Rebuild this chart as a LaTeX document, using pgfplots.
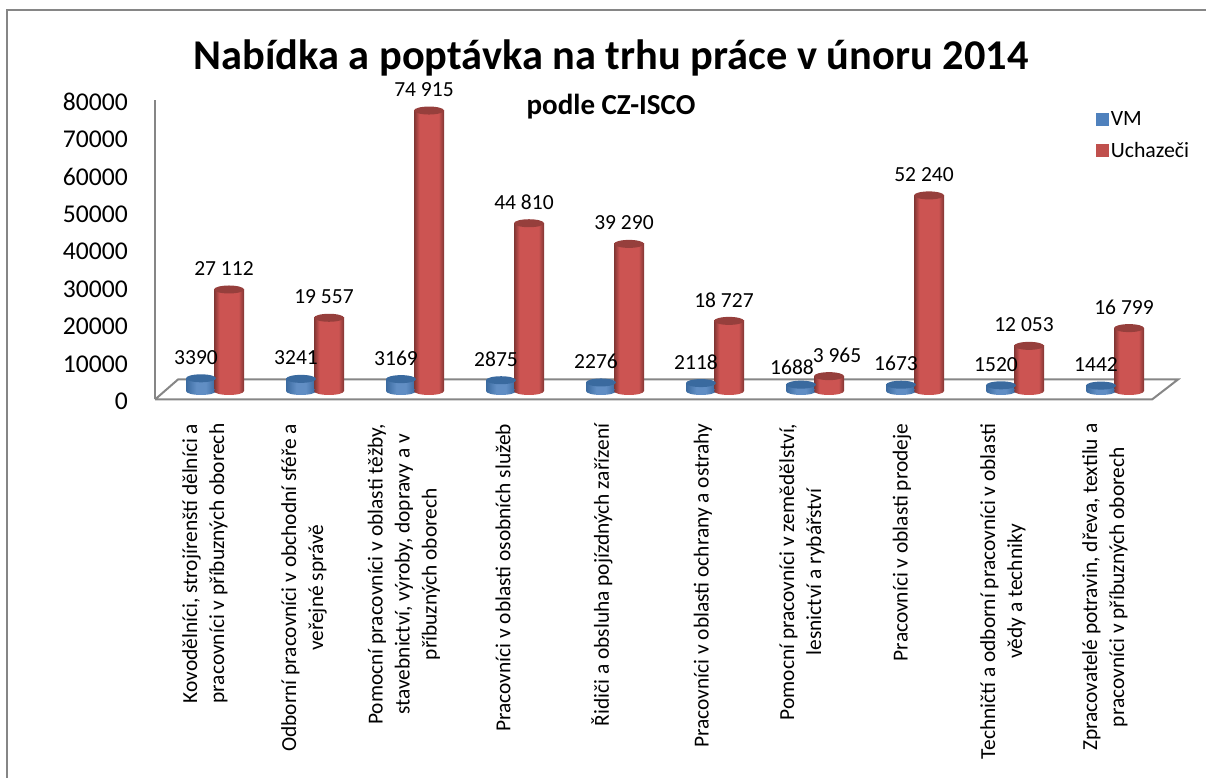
\documentclass[border=0pt]{standalone}
\usepackage{pgfplots}
\usepackage{pgfplotstable}
\pgfplotsset{compat=1.18}
\usepackage{fontspec}
\setmainfont{Carlito}
\definecolor{vmc}{HTML}{4F81BD}
\definecolor{vmtop}{HTML}{3A6A9F}
\definecolor{uchc}{HTML}{C0504D}
\definecolor{uchmid}{HTML}{CC5452}
\definecolor{uchtop}{HTML}{963F3C}
\definecolor{gridc}{HTML}{868686}
\pgfdeclarehorizontalshading{redcyl}{100bp}{color(0bp)=(uchtop!85!black); color(25bp)=(uchtop!85!black); color(34bp)=(uchmid); color(66bp)=(uchmid); color(75bp)=(uchtop!85!black); color(100bp)=(uchtop!85!black)}
\pgfdeclarehorizontalshading{bluecyl}{100bp}{color(0bp)=(vmtop); color(25bp)=(vmtop); color(42bp)=(vmc!90!white); color(58bp)=(vmc!90!white); color(75bp)=(vmtop); color(100bp)=(vmtop)}
\pgfdeclareplotmark{cyltop}{\pgfpathellipse{\pgfpointorigin}{\pgfqpoint{15pt}{0pt}}{\pgfqpoint{0pt}{4pt}}\pgfusepathqfill}
\pgfdeclareplotmark{cylbaseR}{\pgfpathellipse{\pgfpointorigin}{\pgfqpoint{15pt}{0pt}}{\pgfqpoint{0pt}{4pt}}\pgfshadepath{redcyl}{0}\pgfusepath{discard}}
\pgfdeclareplotmark{cylbaseB}{\pgfpathellipse{\pgfpointorigin}{\pgfqpoint{15pt}{0pt}}{\pgfqpoint{0pt}{4pt}}\pgfshadepath{bluecyl}{0}\pgfusepath{discard}}
\pgfplotstableread{
x vm uch lxv lyv lxu lyu
0 3390 27112 -0.14 3390 0.14 27112
1 3241 19557 0.86 3241 1.14 19557
2 3169 74915 1.86 3169 2.14 74915
3 2875 44810 2.86 2875 3.14 44810
4 2276 39290 3.86 2276 4.14 39290
5 2118 18727 4.86 2118 5.14 18727
6 1688 3965 5.82 650 6.27 3965
7 1673 52240 6.86 1673 7.14 52240
8 1520 12053 7.86 1520 8.14 12053
9 1442 16799 8.86 1442 9.14 16799
}\data
\begin{document}
\begin{tikzpicture}[x=1pt,y=1pt]
\useasboundingbox (0,0) rectangle (1206,778);
\draw[gridc,line width=2pt] (7,0) -- (7,768) -- (1206,768);
\node[font=\fontsize{42.4}{46}\selectfont\bfseries] at (611,720) {Nabídka a poptávka na trhu práce v únoru 2014};
\node[font=\fontsize{29}{32}\selectfont\bfseries] at (611,671) {podle CZ-ISCO};
% main axis: value scale, floor, category names
\begin{axis}[
  at={(155pt,378.5pt)}, anchor=south west, scale only axis,
  width=997pt, height=299.5pt,
  xmin=-0.6, xmax=9.37, ymin=0, ymax=80000,
  axis y line*=left, axis x line*=bottom,
  axis line style={draw=none},
  y axis line style={draw=gridc,line width=2pt,-},
  clip=false,
  major tick length=0pt,
  scaled y ticks=false,
  ytick={0,10000,...,80000},
  yticklabel style={font=\fontsize{25.6}{28}\selectfont,/pgf/number format/assume math mode=true,/pgf/number format/1000 sep={},xshift=-27pt,yshift=-2pt,inner sep=0pt},
  xtick={-0.10,0.89,1.89,2.88,3.87,4.88,5.87,6.87,7.88,8.90},
  xticklabels={
    {Kovodělníci, strojírenští dělníci a\\pracovníci v příbuzných oborech},
    {Odborní pracovníci v obchodní sféře a\\veřejné správě},
    {Pomocní pracovníci v oblasti těžby,\\stavebnictví, výroby, dopravy a v\\příbuzných oborech},
    {Pracovníci v oblasti osobních služeb},
    {Řidiči a obsluha pojízdných zařízení},
    {Pracovníci v oblasti ochrany a ostrahy},
    {Pomocní pracovníci v zemědělství,\\lesnictví a rybářství},
    {Pracovníci v oblasti prodeje},
    {Techničtí a odborní pracovníci v oblasti\\vědy a techniky},
    {Zpracovatelé potravin, dřeva, textilu a\\pracovníci v příbuzných oborech}},
  xticklabel style={yshift=-24pt,rotate=90,anchor=east,align=center,inner sep=0pt,font=\fontsize{21.4}{27}\selectfont},
]
\addplot[draw=gridc,line width=2pt,fill=white] coordinates {(-0.6,0) (9.37,0) (9.63,5350) (-0.37,5350) (-0.6,0)};
\end{axis}
% cylinders: same scale, lifted to the middle of the floor
\begin{axis}[
  at={(155pt,387pt)}, anchor=south west, scale only axis,
  width=997pt, height=299.5pt,
  xmin=-0.6, xmax=9.37, ymin=0, ymax=80000,
  hide axis, clip=false,
  legend style={at={(0.944,0.94)},anchor=north west,draw=none,fill=none,inner sep=0pt,
    font=\fontsize{21.8}{24}\selectfont,row sep=11pt,
    /tikz/every even column/.append style={column sep=7pt}},
  legend cell align=left,
  every node near coord/.style={anchor=center,xshift=-5pt,yshift=21pt,inner sep=0pt,font=\fontsize{21.5}{24}\selectfont,text=black},
]
\addlegendimage{legend image code/.code={\fill[vmc] (0pt,-6pt) rectangle (12pt,6pt);}}
\addlegendentry{VM}
\addlegendimage{legend image code/.code={\fill[uchc] (0pt,-6pt) rectangle (12pt,6pt);}}
\addlegendentry{Uchazeči}
\pgfplotsinvokeforeach{0,...,9}{
  \addplot[only marks,mark=cylbaseB,forget plot,restrict expr to domain={\coordindex}{#1:#1}] table[x expr=\thisrow{x}-0.14,y expr=0] {\data};
  \addplot[ybar,bar shift=0pt,bar width=30pt,shading=bluecyl,draw=none,forget plot,restrict expr to domain={\coordindex}{#1:#1}]
    table[x expr=\thisrow{x}-0.14,y=vm] {\data};
  \addplot[only marks,mark=cyltop,mark options={fill=vmtop,draw=none},forget plot,restrict expr to domain={\coordindex}{#1:#1}] table[x expr=\thisrow{x}-0.14,y=vm] {\data};
  \addplot[only marks,mark=cylbaseR,forget plot,restrict expr to domain={\coordindex}{#1:#1}] table[x expr=\thisrow{x}+0.14,y expr=0] {\data};
  \addplot[ybar,bar shift=0pt,bar width=30pt,shading=redcyl,draw=none,forget plot,restrict expr to domain={\coordindex}{#1:#1}]
    table[x expr=\thisrow{x}+0.14,y=uch] {\data};
  \addplot[only marks,mark=cyltop,mark options={fill=uchtop,draw=none},forget plot,restrict expr to domain={\coordindex}{#1:#1}] table[x expr=\thisrow{x}+0.14,y=uch] {\data};
}
\addplot[draw=none,mark=none,forget plot,nodes near coords={\pgfmathprintnumber[assume math mode=true,fixed,precision=0,1000 sep={}]{\pgfplotspointmeta}},point meta=\thisrow{vm}]
  table[x=lxv,y=lyv] {\data};
\addplot[draw=none,mark=none,forget plot,nodes near coords={\pgfmathprintnumber[assume math mode=true,fixed,precision=0,1000 sep={\ }]{\pgfplotspointmeta}},point meta=\thisrow{uch}]
  table[x=lxu,y=lyu] {\data};
\end{axis}
\end{tikzpicture}
\end{document}
